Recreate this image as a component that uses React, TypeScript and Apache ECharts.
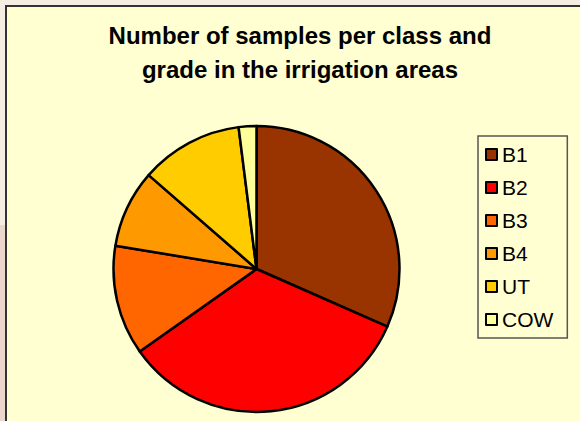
import React, { useEffect, useRef } from "react";
import * as echarts from "echarts";

const titleLines = ["Number of samples per class and", "grade in the irrigation areas"];
const classes = ["B1", "B2", "B3", "B4", "UT", "COW"];
const samples = [79, 84, 31, 22, 29, 5];
const colors = ["#993300", "#FF0000", "#FF6600", "#FF9900", "#FFCC00", "#FFFF99"];

export default function App() {
  const ref = useRef<HTMLDivElement>(null);
  useEffect(() => {
    if (!ref.current) return;
    const chart = echarts.init(ref.current, null, { renderer: "svg" });
    chart.setOption({
      animation: false,
      backgroundColor: "#F4EEE2",
      title: {
        text: titleLines.join("\n"),
        left: 295,
        top: 13,
        textAlign: "center",
        textStyle: {
          fontFamily: "Liberation Sans, Arial, sans-serif",
          fontWeight: "bold",
          fontSize: 24,
          lineHeight: 34,
          color: "#000",
        },
      },
      graphic: [
        { type: "rect", z: -10, silent: true, shape: { x: 0, y: 225, width: 6, height: 200 }, style: { fill: "#EBD6CB" } },
        {
          type: "rect",
          z: -5,
          silent: true,
          shape: { x: 6, y: 6, width: 590, height: 430 },
          style: { fill: "#FFFFD2", stroke: "#333333", lineWidth: 2 },
        },
      ],
      legend: {
        orient: "vertical",
        left: 478,
        top: 136,
        padding: [8, 14, 8, 7],
        itemGap: 12,
        itemWidth: 11,
        itemHeight: 11,
        borderColor: "#555555",
        borderWidth: 1.5,
        icon: "rect",
        itemStyle: { borderColor: "#000", borderWidth: 2 },
        textStyle: {
          fontFamily: "Liberation Sans, Arial, sans-serif",
          fontSize: 21,
          color: "#000",
          padding: [0, 0, 0, 0],
        },
        data: classes,
      },
      series: [
        {
          type: "pie",
          center: [256.5, 269],
          radius: 143,
          startAngle: 90,
          clockwise: true,
          label: { show: false },
          labelLine: { show: false },
          emphasis: { disabled: true },
          itemStyle: { borderColor: "#000", borderWidth: 2.5 },
          data: classes.map((c, i) => ({ name: c, value: samples[i], itemStyle: { color: colors[i] } })),
        },
      ],
    });
    return () => chart.dispose();
  }, []);
  return <div ref={ref} style={{ position: "fixed", left: 0, top: 0, width: 580, height: 421 }} />;
}
